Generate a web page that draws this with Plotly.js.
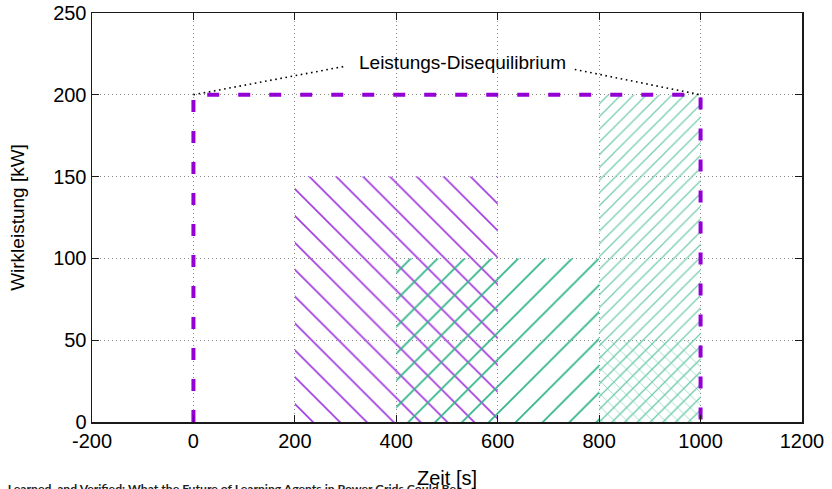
<!DOCTYPE html>
<html>
<head>
<meta charset="utf-8">
<script src="https://cdn.plot.ly/plotly-3.0.1.min.js"></script>
<style>
  html, body { margin: 0; padding: 0; background: #fff; }
  #chart { width: 832px; height: 489px; }
</style>
</head>
<body>
<div id="chart"></div>
<script>
// Axis ranges and ticks
const xRange = [-200, 1200];
const yRange = [0, 250];
const xTicks = [-200, 0, 200, 400, 600, 800, 1000, 1200];
const yTicks = [0, 50, 100, 150, 200, 250];

// Power imbalance envelope: 0 s -> 200 kW held until 1000 s
const envelopeX = [0, 0, 1000, 1000];
const envelopeY = [0, 200, 200, 0];

// Hatched power bands (start time, end time, power)
const bandStart = [200, 400, 800, 800];
const bandEnd = [600, 800, 1000, 1000];
const bandPower = [150, 100, 200, 50];

// Label and its leader lines
const labelText = 'Leistungs-Disequilibrium';
const labelX = 530;
const labelY = 220;
const leftLeaderX = [0, 300];
const leftLeaderY = [200, 217.5];
const rightLeaderX = [752, 1000];
const rightLeaderY = [215.5, 200];

// Running header line at the page bottom
const headerText = ', Learned, and Verified: What the Future of Learning Agents in Power Grids Could Be';

const bandStyles = [
  { shape: '\\', color: '#a23ee0', size: 19, solidity: 0.09 },
  { shape: '/', color: '#2fb388', size: 19, solidity: 0.09 },
  { shape: '/', color: '#74cdb0', size: 9, solidity: 0.14 },
  { shape: 'x', color: '#74cdb0', size: 9, solidity: 0.14 }
];

const traces = [];
bandStart.forEach((x0, i) => {
  const x1 = bandEnd[i];
  const h = bandPower[i];
  const st = bandStyles[i];
  traces.push({
    type: 'scatter',
    mode: 'lines',
    x: [x0, x1, x1, x0, x0],
    y: [0, 0, h, h, 0],
    fill: 'toself',
    fillcolor: 'rgba(0,0,0,0)',
    fillpattern: {
      shape: st.shape,
      fgcolor: st.color,
      bgcolor: 'rgba(0,0,0,0)',
      size: st.size,
      solidity: st.solidity
    },
    line: { width: 0 },
    hoverinfo: 'skip',
    showlegend: false
  });
});

traces.push({
  type: 'scatter', mode: 'lines',
  x: leftLeaderX, y: leftLeaderY,
  line: { color: '#000', width: 1.6, dash: '1.6px,3.6px' },
  showlegend: false, hoverinfo: 'skip'
});
traces.push({
  type: 'scatter', mode: 'lines',
  x: rightLeaderX, y: rightLeaderY,
  line: { color: '#000', width: 1.6, dash: '1.6px,3.6px' },
  showlegend: false, hoverinfo: 'skip'
});

traces.push({
  type: 'scatter', mode: 'lines',
  x: envelopeX, y: envelopeY,
  line: { color: '#9400d3', width: 4, dash: '12px,19px' },
  cliponaxis: false,
  showlegend: false, hoverinfo: 'skip'
});

const axisCommon = {
  showline: true,
  mirror: 'allticks',
  linecolor: '#1a1a1a',
  linewidth: 1.5,
  ticks: 'inside',
  ticklen: 7,
  tickwidth: 1,
  tickcolor: '#1a1a1a',
  showgrid: true,
  gridcolor: '#8a8a8a',
  gridwidth: 1,
  griddash: '1px,3px',
  zeroline: false,
  automargin: false,
  tickfont: { family: 'Liberation Sans, Arial, sans-serif', size: 20, color: '#000' }
};

const layout = {
  width: 832,
  height: 489,
  margin: { l: 92, r: 30, t: 13, b: 67 },
  paper_bgcolor: '#fff',
  plot_bgcolor: '#fff',
  showlegend: false,
  xaxis: Object.assign({}, axisCommon, {
    range: xRange,
    tickvals: xTicks,
    ticktext: xTicks.map(String),
    title: { text: 'Zeit [s]', standoff: 21,
      font: { family: 'Liberation Sans, Arial, sans-serif', size: 20, color: '#000' } }
  }),
  yaxis: Object.assign({}, axisCommon, {
    range: yRange,
    tickvals: yTicks,
    ticktext: yTicks.map(String),
    title: { text: 'Wirkleistung [kW]', standoff: 23,
      font: { family: 'Liberation Sans, Arial, sans-serif', size: 19, color: '#000' } }
  }),
  annotations: [
    {
      x: labelX, y: labelY, xref: 'x', yref: 'y',
      text: labelText, showarrow: false,
      xanchor: 'center', yanchor: 'middle',
      font: { family: 'Liberation Sans, Arial, sans-serif', size: 19, color: '#000' }
    },
    {
      x: -92 / 710, y: -66 / 409, xref: 'paper', yref: 'paper',
      text: '<b>' + headerText + '</b>', showarrow: false,
      xanchor: 'left', yanchor: 'middle',
      font: { family: 'Lato, sans-serif', size: 12.2, color: '#222' }
    }
  ]
};

Plotly.newPlot('chart', traces, layout, { displayModeBar: false, staticPlot: true });
</script>
</body>
</html>
